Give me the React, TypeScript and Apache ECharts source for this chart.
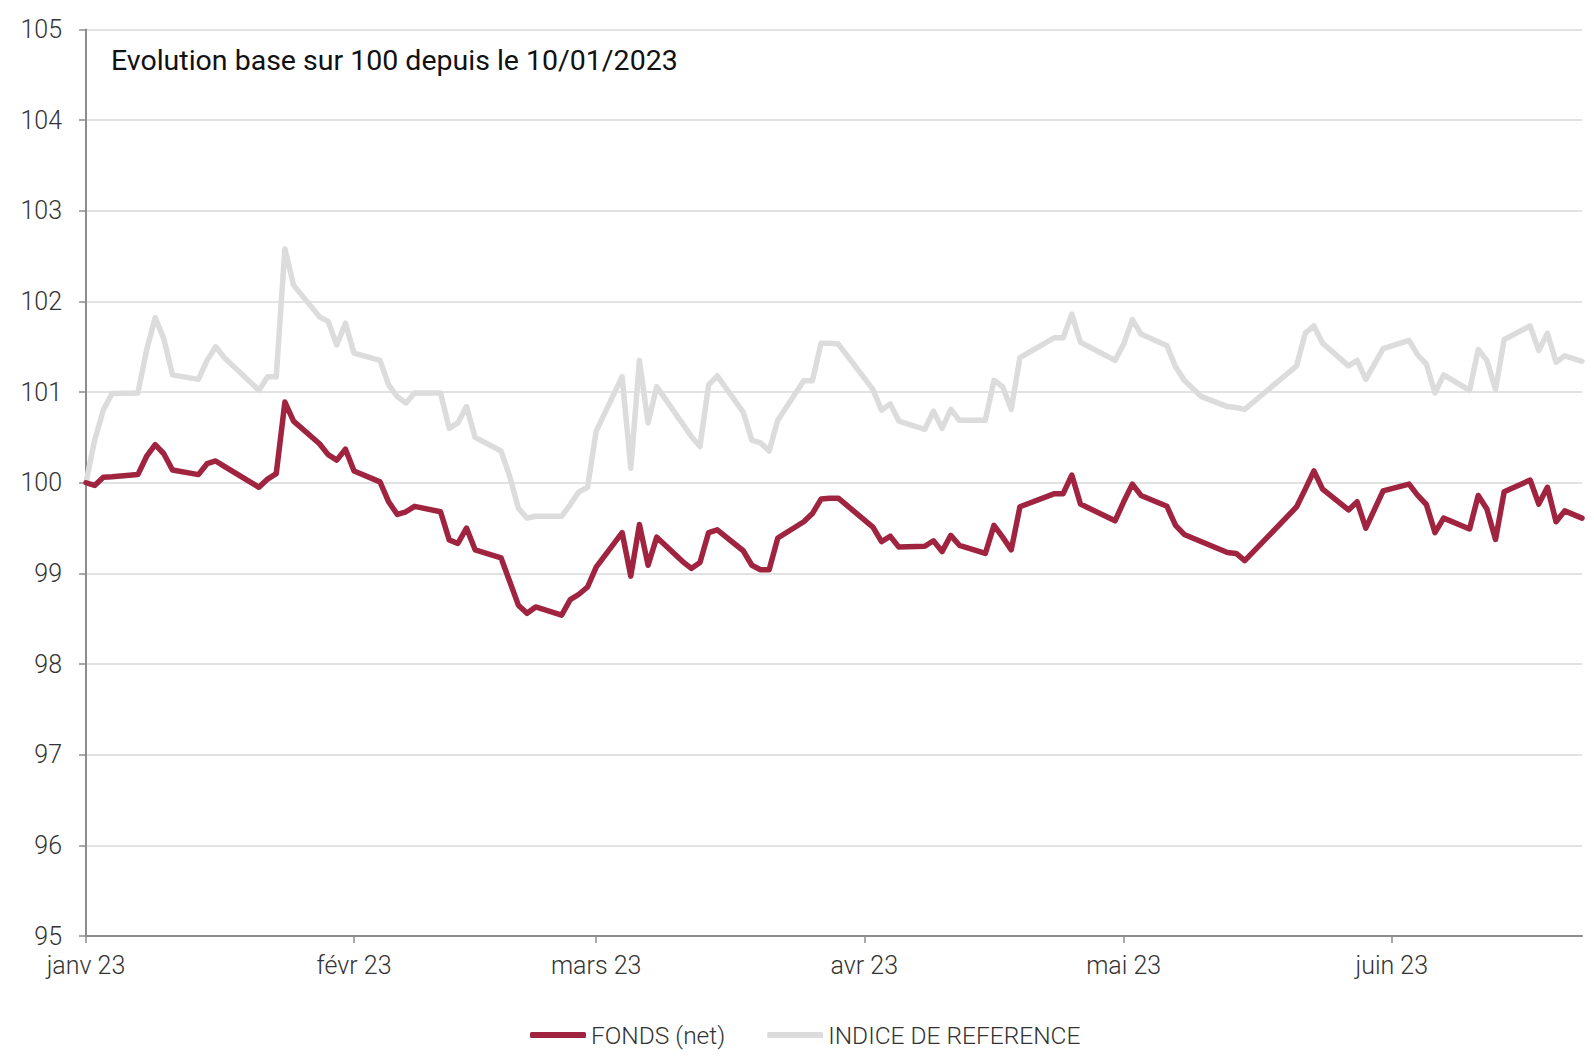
import React, { useEffect, useRef } from "react";
import * as echarts from "echarts";

// day offsets from 10/01/2023
const days = [
  0, 1, 2, 3, 6, 7, 8, 9, 10, 13, 14, 15, 16, 20, 21, 22, 23, 24, 27, 28, 29, 30, 31,
  34, 35, 36, 37, 38, 41, 42, 43, 44, 45, 48, 49, 50, 51, 52, 55, 56, 57, 58, 59,
  62, 63, 64, 65, 66, 69, 70, 71, 72, 73, 76, 77, 78, 79, 80, 83, 84, 85, 86, 87,
  91, 92, 93, 94, 97, 98, 99, 100, 101, 104, 105, 106, 107, 108, 112, 113, 114, 115,
  119, 120, 121, 122, 125, 126, 127, 129, 132, 133, 134, 140, 141, 142, 143, 146, 147,
  148, 150, 153, 154, 155, 156, 157, 160, 161, 162, 163, 164, 167, 168, 169, 170, 171, 173,
];

const fonds = [
  100.0, 99.97, 100.06, 100.065, 100.09, 100.29, 100.42, 100.32, 100.14, 100.09, 100.21, 100.24, 100.18, 99.95, 100.04, 100.1, 100.89, 100.68, 100.43, 100.31, 100.25, 100.37, 100.13,
  100.01, 99.79, 99.65, 99.68, 99.74, 99.68, 99.37, 99.33, 99.5, 99.26, 99.17, 98.91, 98.65, 98.56, 98.63, 98.54, 98.71, 98.77, 98.85, 99.07,
  99.45, 98.97, 99.54, 99.09, 99.4, 99.13, 99.055, 99.12, 99.45, 99.48, 99.25, 99.09, 99.04, 99.04, 99.39, 99.57, 99.66, 99.82, 99.83, 99.83,
  99.51, 99.35, 99.41, 99.29, 99.3, 99.36, 99.24, 99.42, 99.31, 99.22, 99.53, 99.4, 99.26, 99.735, 99.88, 99.88, 100.085, 99.765,
  99.58, 99.79, 99.985, 99.86, 99.74, 99.53, 99.43, 99.35, 99.23, 99.22, 99.14, 99.735, 99.93, 100.13, 99.93, 99.7, 99.79,
  99.5, 99.91, 99.985, 99.86, 99.76, 99.45, 99.61, 99.49, 99.86, 99.71, 99.375, 99.9, 100.03, 99.765, 99.95, 99.57, 99.69, 99.61,
];

const indice = [
  100.0, 100.47, 100.8, 100.985, 100.99, 101.46, 101.82, 101.59, 101.19, 101.14, 101.35, 101.5, 101.38, 101.02, 101.17, 101.17, 102.58, 102.18, 101.83, 101.78, 101.52, 101.76, 101.43,
  101.35, 101.08, 100.95, 100.88, 100.99, 100.99, 100.6, 100.66, 100.84, 100.5, 100.35, 100.07, 99.72, 99.61, 99.63, 99.63, 99.76, 99.9, 99.95, 100.57,
  101.17, 100.16, 101.35, 100.66, 101.06, 100.65, 100.51, 100.4, 101.08, 101.18, 100.78, 100.47, 100.44, 100.35, 100.69, 101.125, 101.125, 101.54, 101.54, 101.53,
  101.03, 100.8, 100.87, 100.68, 100.59, 100.79, 100.6, 100.81, 100.69, 100.69, 101.13, 101.06, 100.81, 101.38, 101.6, 101.6, 101.86, 101.55,
  101.35, 101.53, 101.8, 101.64, 101.51, 101.28, 101.13, 100.95, 100.84, 100.83, 100.81, 101.29, 101.65, 101.73, 101.54, 101.29, 101.35,
  101.14, 101.48, 101.57, 101.41, 101.31, 100.99, 101.19, 101.02, 101.47, 101.35, 101.03, 101.58, 101.73, 101.46, 101.65, 101.33, 101.4, 101.34,
];

const monthTicks = [0, 31, 59, 90, 120, 151];
const monthLabels = ["janv 23", "févr 23", "mars 23", "avr 23", "mai 23", "juin 23"];

const titleText = "Evolution base sur 100 depuis le 10/01/2023";
const seriesNames = ["FONDS (net)", "INDICE DE REFERENCE"];

const FONT = "Roboto, 'Noto Sans', sans-serif";

export default function App() {
  const ref = useRef<HTMLDivElement>(null);

  useEffect(() => {
    document.body.style.margin = "0";
    if (!ref.current) return;
    const chart = echarts.init(ref.current, null, { renderer: "svg" });
    const labelMap: Record<number, string> = {};
    monthTicks.forEach((t, i) => (labelMap[t] = monthLabels[i]));

    chart.setOption({
      animation: false,
      backgroundColor: "#ffffff",
      title: {
        text: titleText,
        left: 106,
        top: 40,
        textStyle: {
          fontFamily: FONT,
          fontSize: 28.5,
          fontWeight: 400,
          color: "#111111",
          lineHeight: 30,
        },
      },
      legend: {
        left: 530,
        top: 1022,
        itemWidth: 56,
        itemHeight: 6,
        itemGap: 42,
        icon: "roundRect",
        data: seriesNames,
        padding: 0,
        textStyle: {
          fontFamily: FONT,
          fontSize: 24.5,
          fontWeight: 300,
          color: "#333333",
          lineHeight: 26,
        },
      },
      grid: {
        left: 86,
        right: 12,
        top: 29.5,
        bottom: 121,
        containLabel: false,
      },
      xAxis: {
        type: "value",
        min: 0,
        max: 173,
        axisLine: { show: true, lineStyle: { color: "#8c8c8c", width: 2 } },
        axisTick: {
          show: true,
          length: 7,
          customValues: monthTicks,
          lineStyle: { color: "#8c8c8c", width: 1.5 },
        },
        axisLabel: {
          customValues: monthTicks,
          formatter: (v: number) => labelMap[v] ?? "",
          fontFamily: FONT,
          fontSize: 25,
          fontWeight: 300,
          color: "#333333",
          margin: 17,
        },
        splitLine: { show: false },
      },
      yAxis: {
        type: "value",
        min: 95,
        max: 105,
        interval: 1,
        axisLine: { show: true, lineStyle: { color: "#8c8c8c", width: 2 } },
        axisTick: { show: true, length: 7, lineStyle: { color: "#8c8c8c", width: 1.5 } },
        axisLabel: {
          fontFamily: FONT,
          fontSize: 25,
          fontWeight: 300,
          color: "#333333",
          margin: 24,
        },
        splitLine: { show: true, lineStyle: { color: "#d9d9d9", width: 1.5 } },
      },
      series: [
        {
          name: seriesNames[0],
          type: "line",
          data: days.map((d, i) => [d, fonds[i]]),
          showSymbol: false,
          symbol: "none",
          z: 3,
          lineStyle: { color: "#a0243f", width: 5.5, cap: "round", join: "round" },
          itemStyle: { color: "#a0243f" },
        },
        {
          name: seriesNames[1],
          type: "line",
          data: days.map((d, i) => [d, indice[i]]),
          showSymbol: false,
          symbol: "none",
          z: 2,
          lineStyle: { color: "#dcdcdc", width: 5.5, cap: "round", join: "round" },
          itemStyle: { color: "#dcdcdc" },
        },
      ],
    });

    return () => chart.dispose();
  }, []);

  return <div ref={ref} style={{ width: 1594, height: 1057 }} />;
}
